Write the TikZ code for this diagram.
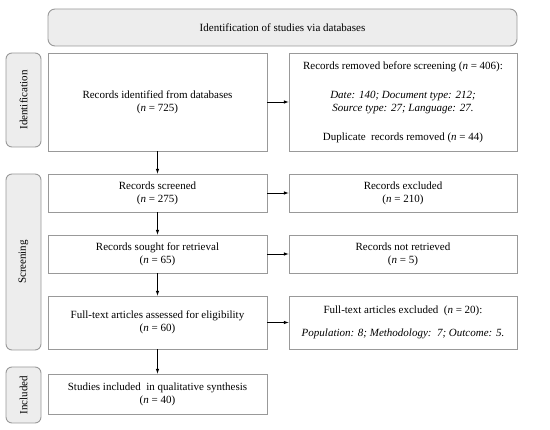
\documentclass[tikz,border=0pt]{standalone}
\usepackage{fontspec}
\setmainfont{Liberation Serif}
\begin{document}
\begin{tikzpicture}[x=1pt,y=-1pt,
  txt/.style={font=\fontsize{11}{13}\selectfont},
  box/.style={txt, draw=black!40, line width=0.9pt, fill=white, align=center, inner sep=2pt},
  lbox/.style={box, minimum width=219pt},
  rbox/.style={box, minimum width=228pt},
  side/.style={draw=black!40, line width=0.9pt, fill=black!7, rounded corners=6pt,
    minimum width=35pt},
  arr/.style={-latex, line width=0.6pt, black}]
\useasboundingbox (0,0) rectangle (550,430);
\node[txt, draw=black!40, line width=0.9pt, fill=black!7, rounded corners=7pt,
  minimum width=469pt, minimum height=37pt]
  (head) at (282.5,27.5) {Identification of studies via databases};
\node[side, minimum height=94pt] (s1) at (23.5,100) {};
\node[txt, rotate=90] (s1t) at (s1.center) {Identification};
\node[side, minimum height=176pt] (s2) at (23.5,262) {};
\node[txt, rotate=90] (s2t) at (s2.center) {Screening};
\node[side, minimum height=56pt] (s3) at (23.5,395) {};
\node[txt, rotate=90] (s3t) at (s3.center) {Included};

\node[lbox, minimum height=98pt] (a1) at (157.5,102)
  {Records identified from databases\\(\textit{n} = 725)};
\node[rbox, minimum height=98pt] (b1) at (403,102)
  {Records removed before screening (\textit{n} = 406):\\[16pt]
   \textit{Date: 140; Document type: 212;}\\
   \textit{Source type: 27; Language: 27.}\\[16pt]
   Duplicate\ \ records removed (\textit{n} = 44)};
\node[lbox, minimum height=38pt] (a2) at (157.5,193)
  {Records screened\\(\textit{n} = 275)};
\node[rbox, minimum height=38pt] (b2) at (403,193)
  {Records excluded\\(\textit{n} = 210)};
\node[lbox, minimum height=38pt] (a3) at (157.5,254)
  {Records sought for retrieval\\(\textit{n} = 65)};
\node[rbox, minimum height=38pt] (b3) at (403,254)
  {Records not retrieved\\(\textit{n} = 5)};
\node[lbox, minimum height=53pt] (a4) at (157.5,322.5)
  {Full-text articles assessed for eligibility\\(\textit{n} = 60)};
\node[rbox, minimum height=53pt] (b4) at (403,322.5)
  {Full-text articles excluded\ \ (\textit{n} = 20):\\[10pt]
   \textit{Population: 8; Methodology:\ \ 7; Outcome: 5.}};
\node[lbox, minimum height=40pt] (a5) at (157.5,394)
  {Studies included\ \ in qualitative synthesis\\(\textit{n} = 40)};

\draw[arr] (a1) -- (b1);
\draw[arr] (a2) -- (b2);
\draw[arr] (a3) -- (b3);
\draw[arr] (a4) -- (b4);
\draw[arr] (a1) -- (a2);
\draw[arr] (a2) -- (a3);
\draw[arr] (a3) -- (a4);
\draw[arr] (a4) -- (a5);
\end{tikzpicture}
\end{document}
